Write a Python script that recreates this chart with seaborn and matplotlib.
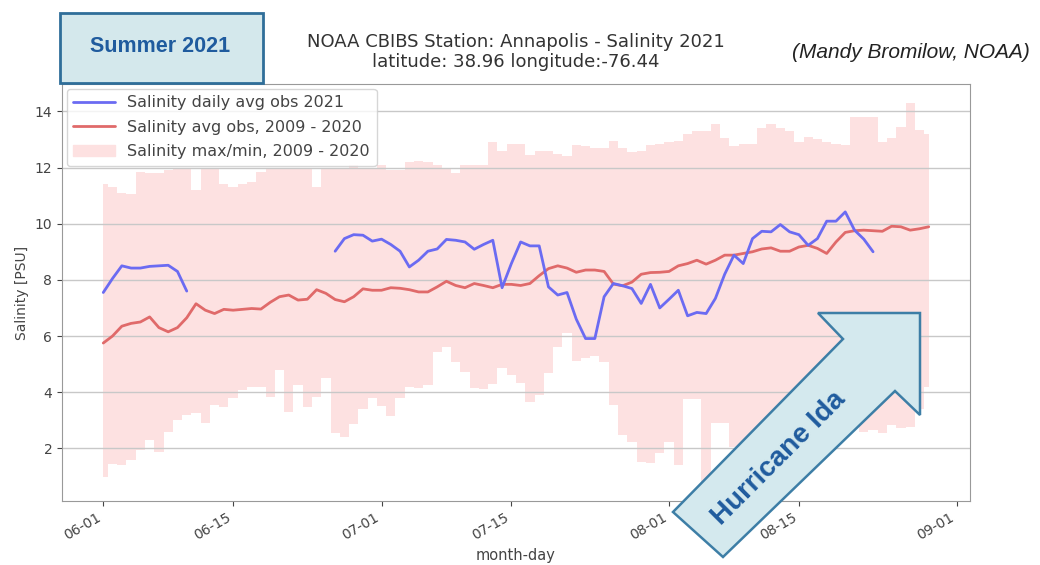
import numpy as np
import pandas as pd
import seaborn as sns
import matplotlib.pyplot as plt
import matplotlib.dates as mdates
from matplotlib.patches import Polygon, Rectangle, Patch
from matplotlib.lines import Line2D

# daily values, 2021-06-01 .. 2021-08-29
days = pd.date_range('2021-06-01', '2021-08-29', freq='D')

avg_obs = [5.75, 6.0, 6.35, 6.45, 6.5, 6.68, 6.3, 6.15, 6.3, 6.65,
           7.15, 6.92, 6.8, 6.95, 6.92, 6.95, 6.98, 6.96, 7.2, 7.4,
           7.46, 7.28, 7.31, 7.65, 7.52, 7.3, 7.22, 7.4, 7.68, 7.63,
           7.63, 7.72, 7.7, 7.65, 7.57, 7.57, 7.75, 7.95, 7.8, 7.72,
           7.87, 7.8, 7.72, 7.84, 7.84, 7.8, 7.87, 8.15, 8.4, 8.5,
           8.42, 8.27, 8.35, 8.35, 8.3, 7.85, 7.79, 7.92, 8.2, 8.26,
           8.27, 8.3, 8.5, 8.58, 8.7, 8.56, 8.7, 8.88, 8.88, 8.94,
           9.0, 9.1, 9.14, 9.02, 9.02, 9.17, 9.23, 9.12, 8.94, 9.35,
           9.69, 9.75, 9.77, 9.75, 9.73, 9.91, 9.89, 9.77, 9.82, 9.89]

max_obs = [11.4, 11.3, 11.1, 11.05, 11.85, 11.8, 11.8, 11.9, 12.0, 12.0,
           11.2, 12.0, 12.0, 11.4, 11.3, 11.4, 11.5, 11.85, 11.95, 12.0,
           12.0, 12.0, 12.0, 11.3, 12.0, 12.0, 12.0, 12.1, 12.0, 12.0,
           12.1, 11.9, 11.9, 12.2, 12.25, 12.2, 12.1, 12.0, 11.8, 12.1,
           12.1, 12.1, 12.9, 12.6, 12.85, 12.85, 12.45, 12.6, 12.6, 12.5,
           12.4, 12.8, 12.75, 12.7, 12.7, 12.95, 12.7, 12.55, 12.6, 12.8,
           12.85, 12.9, 12.95, 13.2, 13.3, 13.3, 13.55, 13.05, 12.75, 12.85,
           12.85, 13.4, 13.55, 13.4, 13.3, 12.9, 13.1, 13.0, 12.9, 12.85,
           12.8, 13.8, 13.8, 13.8, 12.9, 13.05, 13.45, 14.3, 13.35, 13.2]

min_obs = [0.99, 1.45, 1.41, 1.58, 1.94, 2.3, 1.88, 2.59, 3.0, 3.19,
           3.25, 2.89, 3.54, 3.48, 3.78, 4.07, 4.19, 4.19, 3.84, 4.79,
           3.3, 4.25, 3.48, 3.84, 4.49, 2.53, 2.41, 2.85, 3.4, 3.8,
           3.5, 3.15, 3.78, 4.19, 4.14, 4.25, 5.44, 5.62, 5.08, 4.73,
           4.14, 4.1, 4.3, 4.85, 4.61, 4.31, 3.66, 3.9, 4.67, 5.62,
           6.1, 5.1, 5.2, 5.3, 5.08, 3.54, 2.47, 2.23, 1.52, 1.47,
           1.82, 2.23, 1.41, 3.75, 3.75, 0.8, 2.92, 2.9, 2.06, 1.6,
           2.2, 2.5, 2.3, 2.6, 2.4, 2.7, 2.5, 2.6, 2.7, 2.6,
           2.7, 2.75, 2.59, 2.65, 2.53, 2.83, 2.71, 2.77, 3.4, 4.2]

nan = np.nan
obs_2021 = [7.55, 8.05, 8.5, 8.42, 8.42, 8.48, 8.5, 8.52, 8.3, 7.6,
            nan, nan, nan, nan, nan, nan, nan, nan, nan, nan,
            nan, nan, nan, nan, nan, 9.02, 9.47, 9.61, 9.59, 9.38,
            9.45, 9.26, 9.02, 8.46, 8.7, 9.02, 9.1, 9.44, 9.41, 9.35,
            9.09, 9.26, 9.41, 7.72, 8.58, 9.35, 9.21, 9.21, 7.75, 7.46,
            7.55, 6.6, 5.91, 5.91, 7.4, 7.87, 7.79, 7.69, 7.16, 7.84,
            7.0, 7.31, 7.63, 6.72, 6.84, 6.8, 7.34, 8.2, 8.88, 8.58,
            9.47, 9.73, 9.71, 9.97, 9.71, 9.61, 9.23, 9.47, 10.09, 10.09,
            10.42, 9.77, 9.45, 9.0, nan, nan, nan, nan, nan, nan]

df = pd.DataFrame({'date': days, 'avg': avg_obs, 'max': max_obs,
                   'min': min_obs, 'obs': obs_2021})
# separate runs of 2021 observations so the gap is not bridged
df['segment'] = df['obs'].isna().cumsum()
df_obs = df.dropna(subset=['obs'])

sns.set_style('ticks')
plt.rcParams['font.family'] = ['DejaVu Sans']

W, H = 1040, 565
fig = plt.figure(figsize=(W / 100, H / 100), dpi=100)
ax = fig.add_axes([62 / W, 1 - 501 / H, 908 / W, 417 / H])

blue = '#6b6bf2'
red = '#e06a6a'
pink = '#fde1e1'

# fill sits under the grid, like the reference
ax.fill_between(mdates.date2num(df['date']), df['min'], df['max'],
                step='mid', color=pink, lw=0, zorder=0.2)
sns.lineplot(data=df, x='date', y='avg', color=red, lw=2, ax=ax)
sns.lineplot(data=df_obs, x='date', y='obs', units='segment', estimator=None,
             color=blue, lw=2, ax=ax)

ax.grid(axis='y', color='#c8c8c8', lw=1)
for s in ax.spines.values():
    s.set_color('#999999')
    s.set_visible(True)

ax.xaxis.set_major_locator(mdates.DayLocator(bymonthday=[1, 15]))
ax.xaxis.set_major_formatter(mdates.DateFormatter('%m-%d'))
ax.tick_params(labelsize=10, colors='#444444')
for lab in ax.get_xticklabels():
    lab.set_rotation(30)
    lab.set_ha('right')

ax.set_xlabel('month-day', fontsize=10.5, color='#444444')
ax.set_ylabel('Salinity [PSU]', fontsize=10, color='#444444')
ax.set_title('NOAA CBIBS Station: Annapolis - Salinity 2021\n'
             'latitude: 38.96 longitude:-76.44',
             fontsize=13, color='#333333', pad=12, linespacing=1.2)

handles = [Line2D([], [], color=blue, lw=2),
           Line2D([], [], color=red, lw=2),
           Patch(color=pink)]
labels = ['Salinity daily avg obs 2021', 'Salinity avg obs, 2009 - 2020',
          'Salinity max/min, 2009 - 2020']
leg = ax.legend(handles, labels, loc='upper left', fontsize=11.5,
                handlelength=2.6, frameon=True, framealpha=0.8,
                borderaxespad=0.3, labelspacing=0.6)
for t in leg.get_texts():
    t.set_color('#444444')

# "Summer 2021" badge
fig.add_artist(Rectangle((60 / W, 1 - 83 / H), 203 / W, 70 / H,
                         transform=fig.transFigure, facecolor='#d4e8ec',
                         edgecolor='#2f6e99', lw=2, zorder=5))
fig.text(160 / W, 1 - 47 / H, 'Summer 2021', ha='center', va='center',
         fontsize=15.5, fontweight='bold', color='#1f5b9e',
         family='Liberation Sans', zorder=6)

fig.text(911 / W, 1 - 52 / H, '(Mandy Bromilow, NOAA)', ha='center',
         va='center', fontsize=15, style='italic', color='#222222',
         family='Liberation Sans')

# Hurricane Ida arrow
arrow_px = [(673, 512), (843, 339), (818, 313), (920, 313),
            (920, 415), (895, 391), (723, 557)]
fig.add_artist(Polygon([(x / W, 1 - y / H) for x, y in arrow_px],
                       closed=True, transform=fig.transFigure,
                       facecolor='#d4e9ee', edgecolor='#3d7ea6', lw=1.8,
                       zorder=5))
fig.text(779 / W, 1 - 458 / H, 'Hurricane Ida', ha='center', va='center',
         rotation=45, rotation_mode='anchor', fontsize=20, fontweight='bold',
         color='#1f5b9e', family='Liberation Sans', zorder=6)

fig.savefig('out.png', dpi=100)
